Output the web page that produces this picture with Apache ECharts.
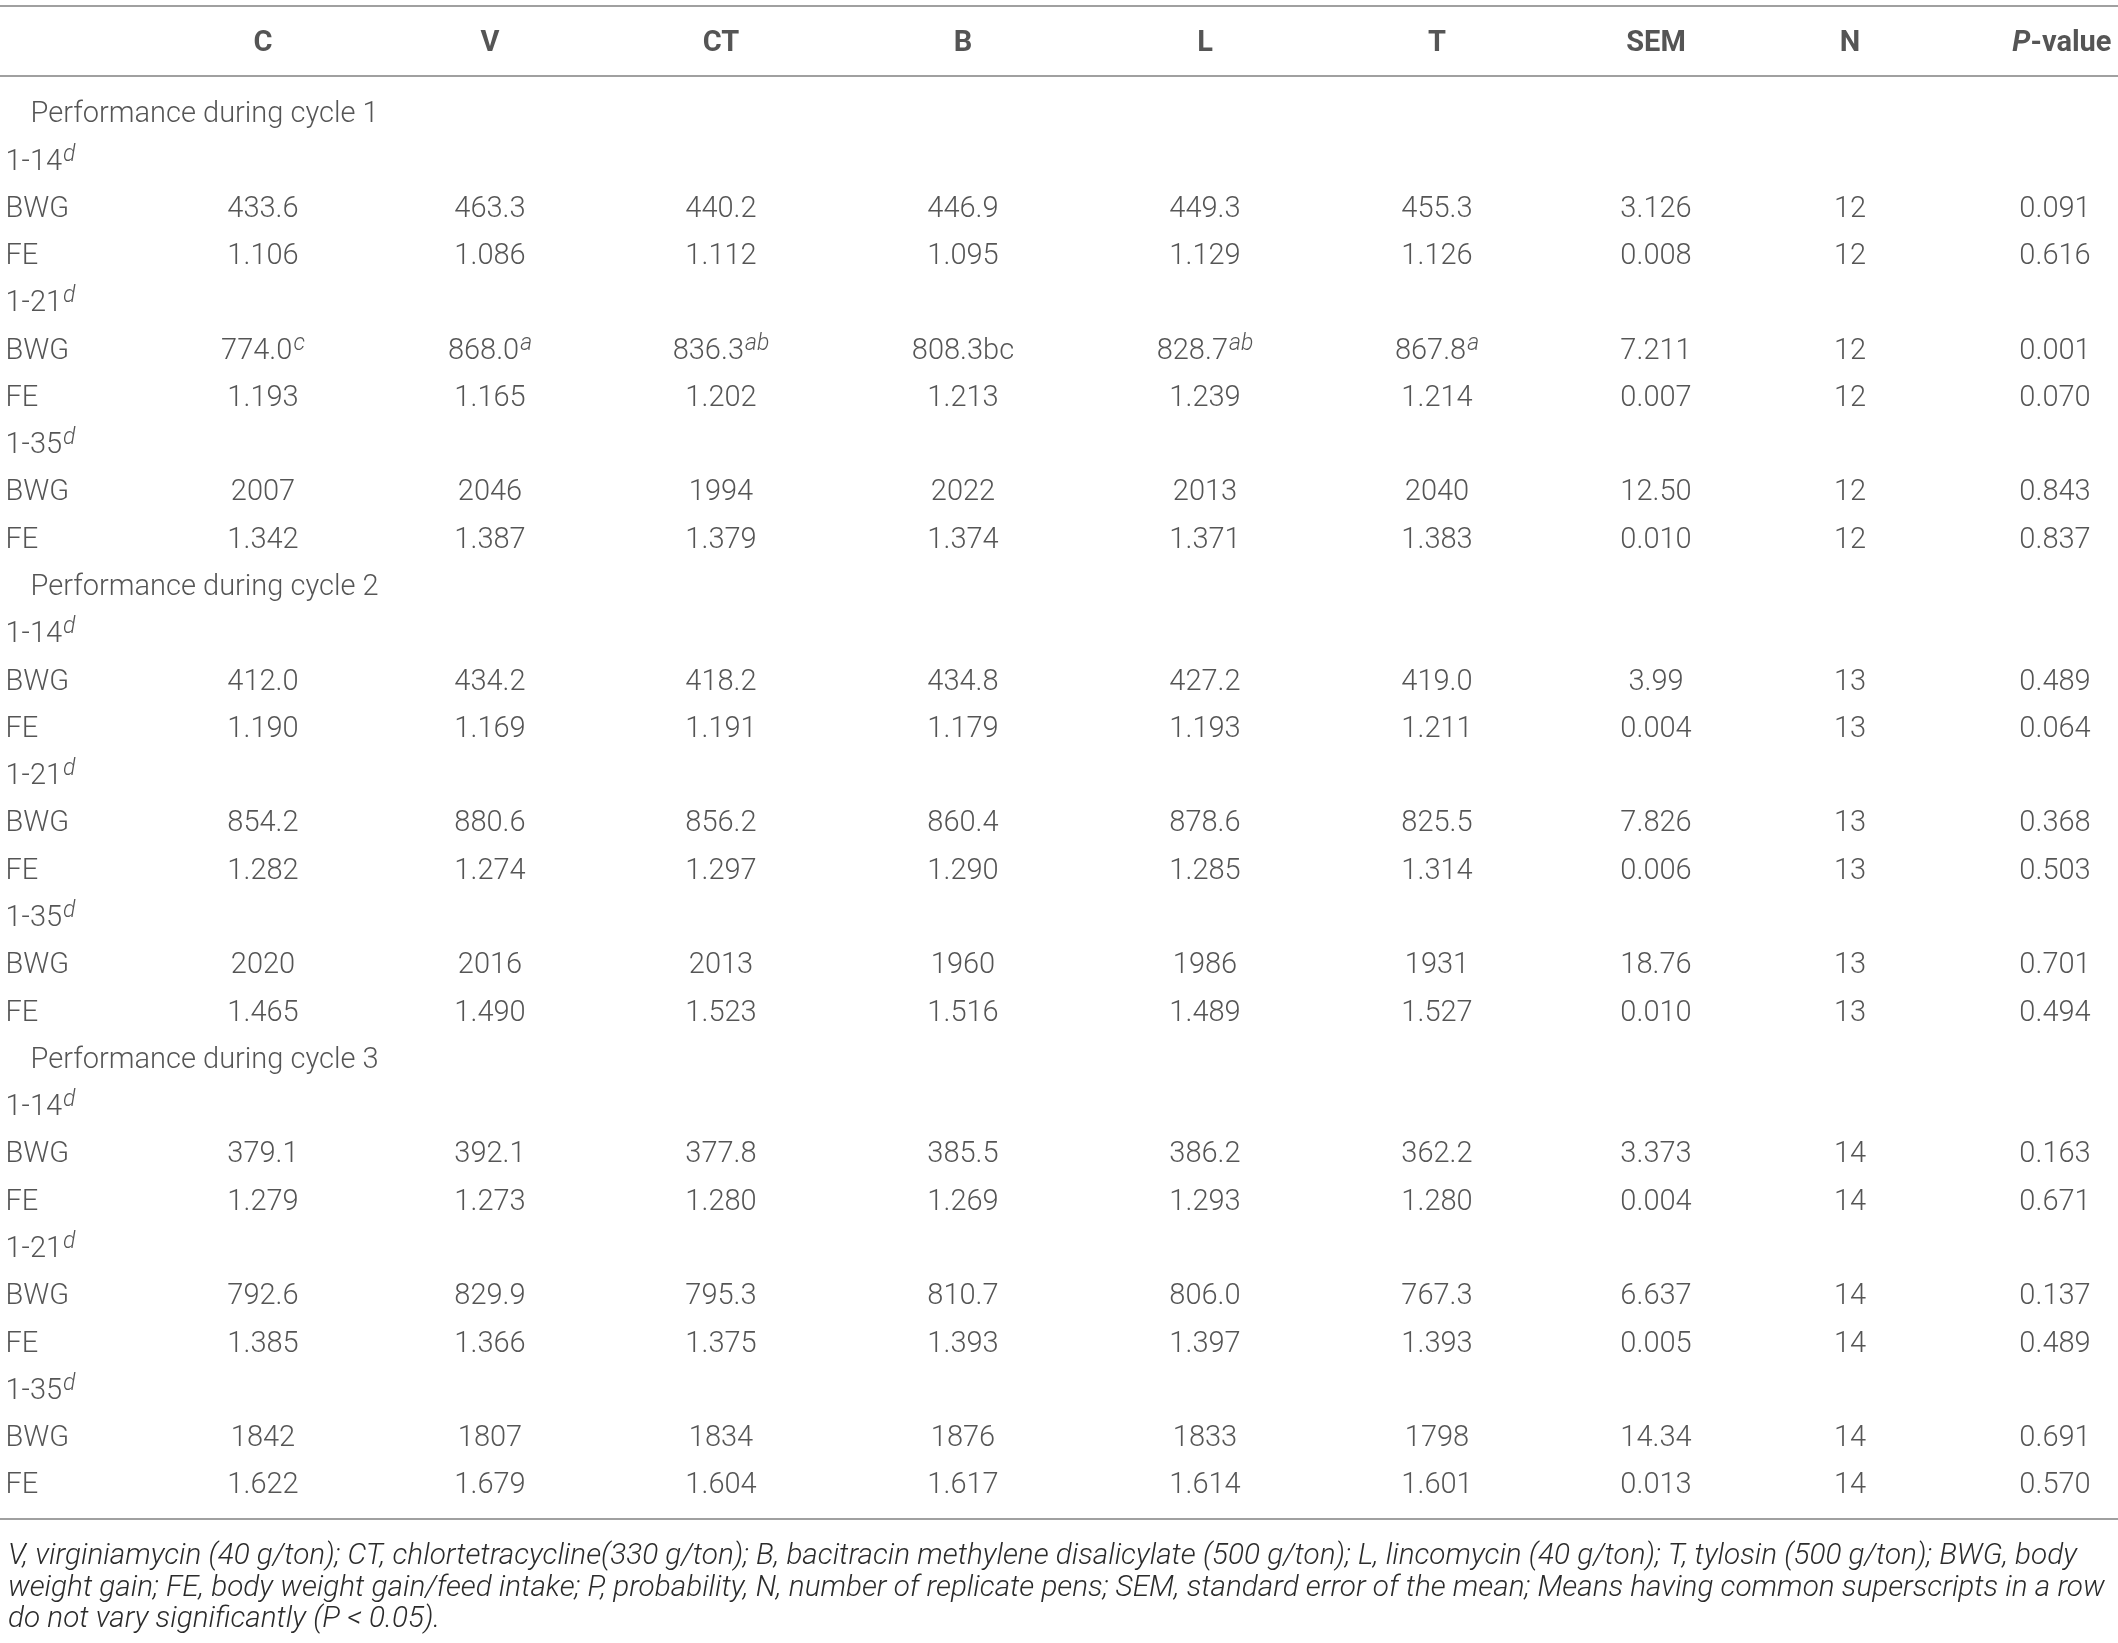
<!DOCTYPE html>
<html>
<head>
<meta charset="utf-8">
<script src="https://cdn.jsdelivr.net/npm/echarts@6/dist/echarts.min.js"></script>
<style>
  html, body { margin: 0; padding: 0; background: #fff; }
  #chart { width: 2118px; height: 1643px; }
</style>
</head>
<body>
<div id="chart"></div>
<script>
// column headers and section labels
var columns = ['C', 'V', 'CT', 'B', 'L', 'T', 'SEM', 'N', 'P-value'];
var cycles = ['Performance during cycle 1', 'Performance during cycle 2', 'Performance during cycle 3'];
var periods = ['1-14', '1-21', '1-35'];
var measures = ['BWG', 'FE'];

// values ("^x" marks a superscript letter)
var c1_14_BWG = ['433.6', '463.3', '440.2', '446.9', '449.3', '455.3', '3.126', '12', '0.091'];
var c1_14_FE  = ['1.106', '1.086', '1.112', '1.095', '1.129', '1.126', '0.008', '12', '0.616'];
var c1_21_BWG = ['774.0^c', '868.0^a', '836.3^ab', '808.3bc', '828.7^ab', '867.8^a', '7.211', '12', '0.001'];
var c1_21_FE  = ['1.193', '1.165', '1.202', '1.213', '1.239', '1.214', '0.007', '12', '0.070'];
var c1_35_BWG = ['2007', '2046', '1994', '2022', '2013', '2040', '12.50', '12', '0.843'];
var c1_35_FE  = ['1.342', '1.387', '1.379', '1.374', '1.371', '1.383', '0.010', '12', '0.837'];

var c2_14_BWG = ['412.0', '434.2', '418.2', '434.8', '427.2', '419.0', '3.99', '13', '0.489'];
var c2_14_FE  = ['1.190', '1.169', '1.191', '1.179', '1.193', '1.211', '0.004', '13', '0.064'];
var c2_21_BWG = ['854.2', '880.6', '856.2', '860.4', '878.6', '825.5', '7.826', '13', '0.368'];
var c2_21_FE  = ['1.282', '1.274', '1.297', '1.290', '1.285', '1.314', '0.006', '13', '0.503'];
var c2_35_BWG = ['2020', '2016', '2013', '1960', '1986', '1931', '18.76', '13', '0.701'];
var c2_35_FE  = ['1.465', '1.490', '1.523', '1.516', '1.489', '1.527', '0.010', '13', '0.494'];

var c3_14_BWG = ['379.1', '392.1', '377.8', '385.5', '386.2', '362.2', '3.373', '14', '0.163'];
var c3_14_FE  = ['1.279', '1.273', '1.280', '1.269', '1.293', '1.280', '0.004', '14', '0.671'];
var c3_21_BWG = ['792.6', '829.9', '795.3', '810.7', '806.0', '767.3', '6.637', '14', '0.137'];
var c3_21_FE  = ['1.385', '1.366', '1.375', '1.393', '1.397', '1.393', '0.005', '14', '0.489'];
var c3_35_BWG = ['1842', '1807', '1834', '1876', '1833', '1798', '14.34', '14', '0.691'];
var c3_35_FE  = ['1.622', '1.679', '1.604', '1.617', '1.614', '1.601', '0.013', '14', '0.570'];

var tableValues = [
  [[c1_14_BWG, c1_14_FE], [c1_21_BWG, c1_21_FE], [c1_35_BWG, c1_35_FE]],
  [[c2_14_BWG, c2_14_FE], [c2_21_BWG, c2_21_FE], [c2_35_BWG, c2_35_FE]],
  [[c3_14_BWG, c3_14_FE], [c3_21_BWG, c3_21_FE], [c3_35_BWG, c3_35_FE]]
];

var footnote = 'V, virginiamycin (40 g/ton); CT, chlortetracycline(330 g/ton); B, bacitracin methylene disalicylate (500 g/ton); L, lincomycin (40 g/ton); T, tylosin (500 g/ton); BWG, body\n' +
  'weight gain; FE, body weight gain/feed intake; P, probability, N, number of replicate pens; SEM, standard error of the mean; Means having common superscripts in a row\n' +
  'do not vary significantly (P < 0.05).';

// layout
var colX = [263, 490, 721, 963, 1205, 1437, 1656, 1850, 2055];
var labelX = 5, sectionX = 30, pvalRight = 2112;
var rowPx = 47.28, firstRowPx = 115;
var linePx = [5.5, 76, 1519];
var textColor = '#2b2b2b';
var font = 'Roboto';

function sup(s) {
  var i = s.indexOf('^');
  return i < 0 ? s : s.slice(0, i) + '{sup|' + s.slice(i + 1) + '}';
}

// plain text sits in the middle of a tall line, the superscript hugs its top
var richSup = {
  sup: { fontSize: 23, fontStyle: 'italic', fontFamily: font, fontWeight: 300, color: textColor, verticalAlign: 'top', lineHeight: 20, padding: [0, 0, 0, 1] }
};
var supOpts = { rich: richSup, lineHeight: 38 };

var cells = [];
function cell(x, row, text, opts) {
  cells.push({
    value: [x, row],
    label: Object.assign({
      formatter: text,
      position: 'inside',
      align: 'center',
      verticalAlign: 'middle'
    }, opts || {})
  });
}

// header
columns.forEach(function (c, j) {
  var hdrRich = { pi: { fontStyle: 'italic', fontWeight: 'bold', fontSize: 29, fontFamily: font, color: textColor } };
  if (c === 'P-value') {
    cell(pvalRight, -1.5, '{pi|P}-value', { position: 'left', distance: 0, align: 'right', fontWeight: 'bold', rich: hdrRich });
  } else {
    cell(colX[j], -1.5, c, { fontWeight: 'bold' });
  }
});

var r = 0;
cycles.forEach(function (cy, ci) {
  cell(sectionX, r, cy, { position: 'right', distance: 0, align: 'left' });
  r++;
  periods.forEach(function (p, pi) {
    cell(labelX, r, p + '{sup|d}', Object.assign({ position: 'right', distance: 0, align: 'left' }, supOpts));
    r++;
    measures.forEach(function (m, mi) {
      cell(labelX, r, m, { position: 'right', distance: 0, align: 'left' });
      tableValues[ci][pi][mi].forEach(function (v, j) {
        cell(colX[j], r, sup(v), supOpts);
      });
      r++;
    });
  });
});

var yMin = -firstRowPx / rowPx;
var yMax = yMin + 1643 / rowPx;
var lineStyle = { color: '#a0a0a0', width: 2, type: 'solid' };

var chart = echarts.init(document.getElementById('chart'));
var option = {
  backgroundColor: '#ffffff',
  animation: false,
  textStyle: { fontFamily: font },
  title: {
    text: footnote,
    left: 3,
    top: 1536,
    textStyle: { fontFamily: font, fontStyle: 'italic', fontWeight: 300, fontSize: 29.7, lineHeight: 31.5, color: textColor }
  },
  grid: { left: 0, right: 0, top: 0, bottom: 0 },
  xAxis: { type: 'value', min: 0, max: 2118, show: false },
  yAxis: { type: 'value', inverse: true, min: yMin, max: yMax, show: false },
  series: [{
    type: 'scatter',
    symbolSize: 1,
    itemStyle: { color: 'rgba(0,0,0,0)' },
    silent: true,
    label: {
      show: true,
      fontFamily: font,
      fontSize: 29,
      fontWeight: 300,
      color: textColor
    },
    data: cells,
    markLine: {
      silent: true,
      symbol: 'none',
      label: { show: false },
      lineStyle: lineStyle,
      data: linePx.map(function (p) { return { yAxis: (p - firstRowPx) / rowPx }; })
    }
  }]
};
chart.setOption(option);
</script>
</body>
</html>
